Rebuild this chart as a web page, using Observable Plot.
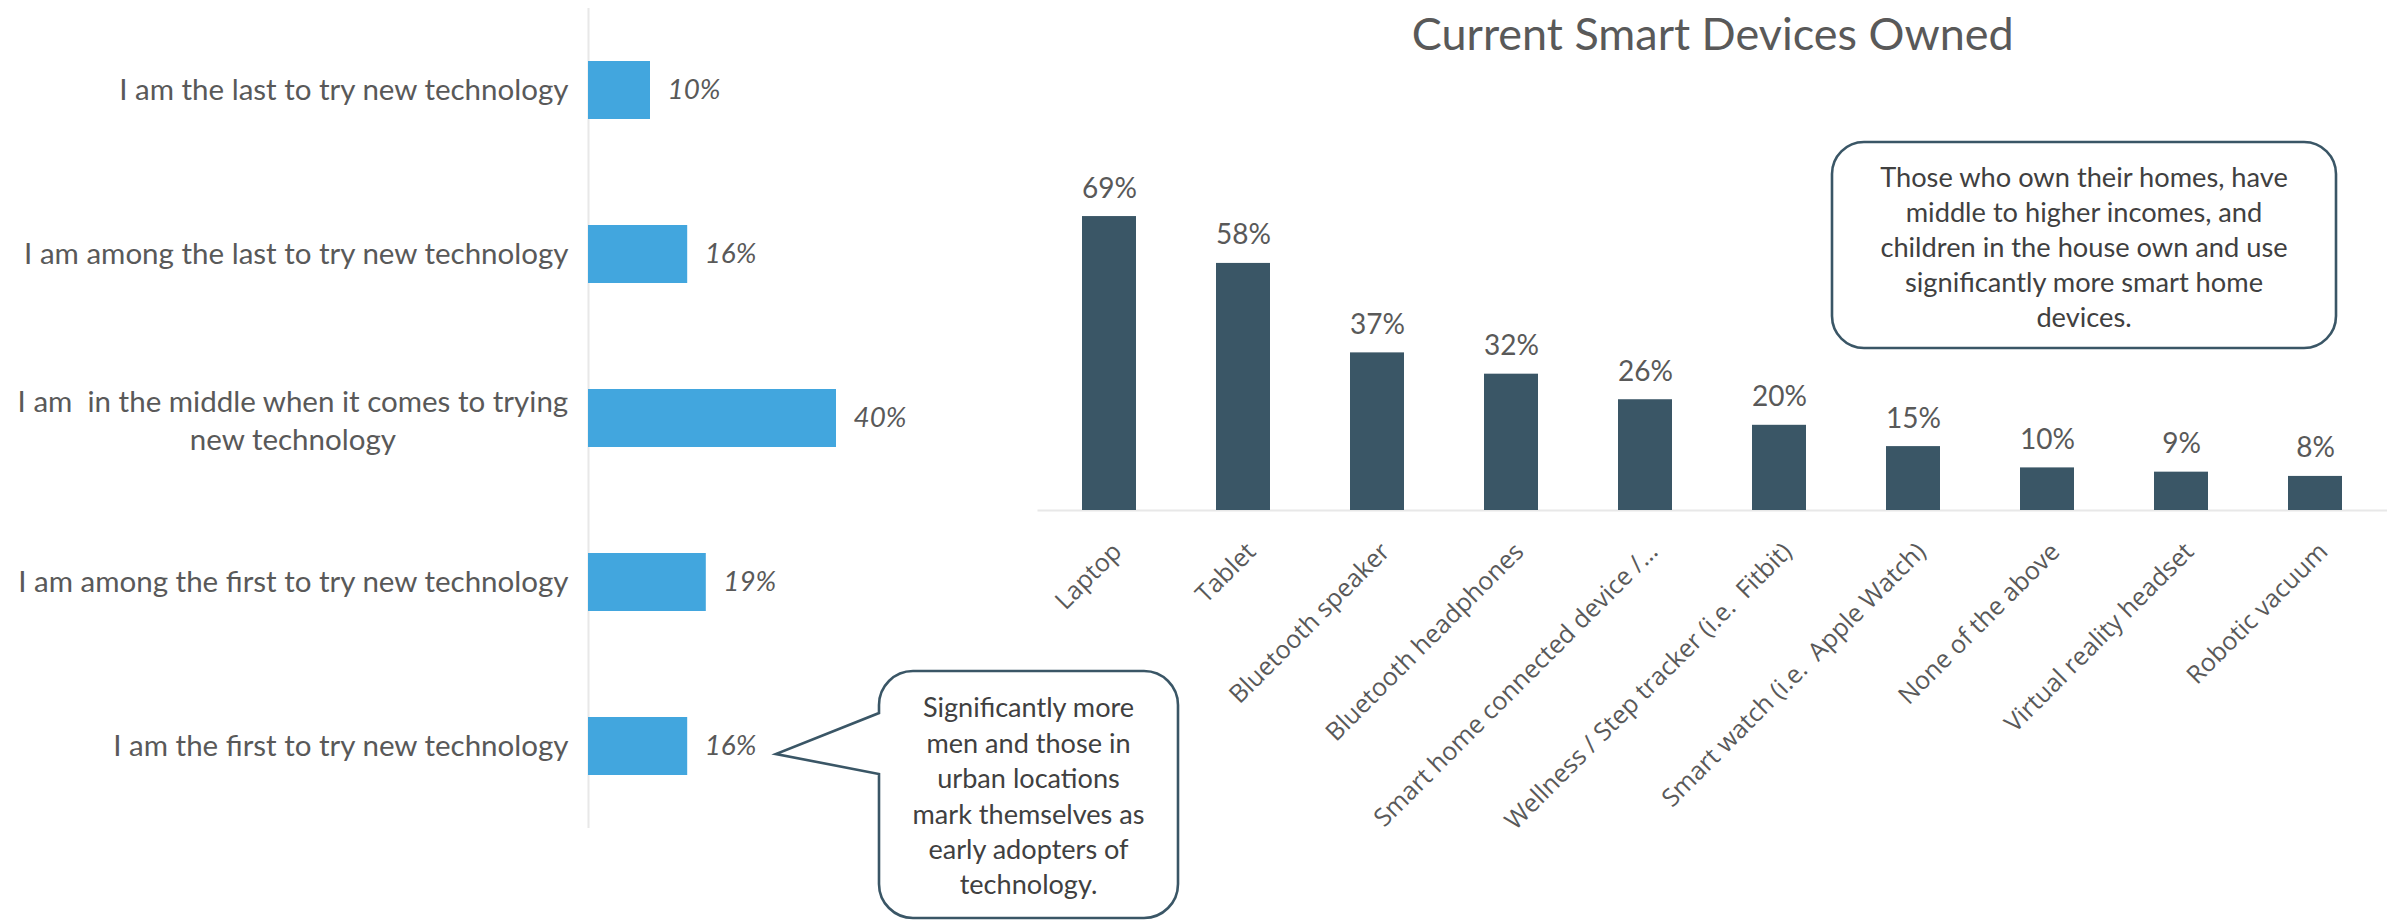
<!DOCTYPE html>
<html><head><meta charset="utf-8">
<script src="https://cdn.jsdelivr.net/npm/d3@7"></script>
<script src="https://cdn.jsdelivr.net/npm/@observablehq/plot@0.6"></script>
<style>
html,body{margin:0;padding:0;background:#fff;}
#root{position:relative;width:2387px;height:921px;overflow:hidden;}
#root > svg{position:absolute;top:0;overflow:visible;}
#root text{white-space:pre;}
</style></head><body><div id="root"></div>
<script>
// ---------- data ----------
const adoptionLabels = [
  "I am the last to try new technology",
  "I am among the last to try new technology",
  "I am  in the middle when it comes to trying\nnew technology",
  "I am among the first to try new technology",
  "I am the first to try new technology"
];
const adoptionValues = [10, 16, 40, 19, 16];

const chartTitle = "Current Smart Devices Owned";
const deviceLabels = [
  "Laptop", "Tablet", "Bluetooth speaker", "Bluetooth headphones",
  "Smart home connected device /…", "Wellness / Step tracker (i.e.  Fitbit)",
  "Smart watch (i.e.  Apple Watch)", "None of the above",
  "Virtual reality headset", "Robotic vacuum"
];
const deviceValues = [69, 58, 37, 32, 26, 20, 15, 10, 9, 8];

const leftNote = ["Significantly more", "men and those in", "urban locations", "mark themselves as", "early adopters of", "technology."];
const rightNote = ["Those who own their homes, have", "middle to higher incomes, and", "children in the house own and use", "significantly more smart home", "devices."];

const adoption = adoptionLabels.map((label, i) => ({label, value: adoptionValues[i]}));
const devices = deviceLabels.map((label, i) => ({label, value: deviceValues[i]}));

// ---------- fonts ----------
const SANS = "Lato";
const TICKFONT = "Open Sans";
const ctx = document.createElement("canvas").getContext("2d");
function measure(text, size, family, style = "normal") {
  ctx.font = `${style} ${size}px '${family}'`;
  return ctx.measureText(text).width;
}
function fit(text, family, target, style = "normal") {
  return 100 * target / measure(text, 100, family, style);
}
const FS = {
  label: fit(adoptionLabels[0], SANS, 451),
  leftValue: fit("10%", SANS, 53, "italic"),
  value: fit("69%", SANS, 55),
  title: fit(chartTitle, SANS, 602),
  noteR: fit(rightNote[0], SANS, 409),
  noteL: fit(leftNote[0], SANS, 212),
  tick: fit("Smart home connected device /…", TICKFONT, 389)
};
const TEXT = "#595959";
const NOTE = "#404040";
const BLUE = "#42A6DE";
const SLATE = "#3A5666";
const GRID = "#E8E8E8";

const root = document.getElementById("root");

// ---------- left chart ----------
const single = adoption.filter(d => !d.label.includes("\n"));
const multi = adoption.filter(d => d.label.includes("\n"));
const firstLineW = d => measure(d.label.split("\n")[0], FS.label, SANS);

const left = Plot.plot({
  width: 1200, height: 921,
  marginLeft: 588, marginRight: 302, marginTop: 8, marginBottom: 93,
  x: {domain: [0, 50], axis: null},
  y: {domain: adoptionLabels, paddingInner: 0.646, paddingOuter: 0.323, axis: null},
  style: {fontFamily: SANS, background: "transparent", color: TEXT},
  marks: [
    Plot.ruleX([0], {stroke: GRID, strokeWidth: 2}),
    Plot.barX(adoption, {x: "value", y: "label", fill: BLUE}),
    Plot.text(adoption, {x: "value", y: "label", text: d => d.value + "%", textAnchor: "start", dx: 17,
      fontStyle: "italic", fontSize: FS.leftValue, fill: TEXT}),
    Plot.text(single, {y: "label", text: "label", frameAnchor: "left", textAnchor: "end", dx: -20,
      fontSize: FS.label, fill: TEXT}),
    Plot.text(multi, {y: "label", text: "label", frameAnchor: "left", textAnchor: "middle",
      dx: -20 - firstLineW(multi[0]) / 2, lineHeight: 38 / FS.label, fontSize: FS.label, fill: TEXT})
  ]
});
left.style.left = "0px";
root.appendChild(left);

function calloutPath(x0, y0, x1, y1, r, ptr) {
  let p = `M${x0 + r},${y0}H${x1 - r}A${r},${r} 0 0 1 ${x1},${y0 + r}V${y1 - r}A${r},${r} 0 0 1 ${x1 - r},${y1}H${x0 + r}A${r},${r} 0 0 1 ${x0},${y1 - r}`;
  if (ptr) p += `V${ptr.b2}L${ptr.x},${ptr.y}L${x0},${ptr.b1}`;
  p += `V${y0 + r}A${r},${r} 0 0 1 ${x0 + r},${y0}Z`;
  return p;
}
function drawCallout(svg, box, lines, fontSize, lineGap, ptr) {
  const g = d3.select(svg).append("g");
  g.append("path").attr("d", calloutPath(box.x0, box.y0, box.x1, box.y1, box.r, ptr))
    .attr("fill", "#fff").attr("stroke", SLATE).attr("stroke-width", 2.6);
  const cx = (box.x0 + box.x1) / 2, cy = (box.y0 + box.y1) / 2 + 2;
  const start = cy - (lines.length - 1) * lineGap / 2;
  g.selectAll("text").data(lines).join("text")
    .attr("x", cx).attr("y", (d, i) => start + i * lineGap)
    .attr("dy", "0.35em").attr("text-anchor", "middle")
    .attr("font-family", SANS).attr("font-size", fontSize).attr("fill", NOTE)
    .text(d => d);
}
{
  const xs = left.scale("x"), ys = left.scale("y");
  const last = adoption[adoption.length - 1];
  const cy = ys.apply(last.label) + ys.bandwidth / 2;
  const tipX = xs.apply(last.value) + 17 + measure(last.value + "%", FS.leftValue, SANS, "italic") + 20;
  drawCallout(left, {x0: 879, y0: 671, x1: 1178, y1: 918, r: 34}, leftNote, FS.noteL, 35.4,
    {x: tipX, y: cy + 8, b1: cy - 33, b2: cy + 28});
}

// ---------- right chart ----------
const right = Plot.plot({
  width: 1387, height: 921,
  marginLeft: 37.5, marginRight: 0, marginTop: 169.2, marginBottom: 411,
  x: {domain: deviceLabels, paddingInner: 0.6, paddingOuter: 0.3},
  y: {domain: [0, 80], axis: null},
  style: {fontFamily: SANS, background: "transparent", color: TEXT},
  marks: [
    Plot.ruleY([0], {stroke: GRID, strokeWidth: 2}),
    Plot.barY(devices, {x: "label", y: "value", fill: SLATE}),
    Plot.text(devices, {x: "label", y: "value", text: d => d.value + "%", lineAnchor: "bottom", dy: -19,
      fontSize: FS.value, fill: TEXT}),
    Plot.axisX({tickRotate: -45, tickSize: 0, tickPadding: 37, dx: 8, fontSize: FS.tick,
      fontFamily: TICKFONT, fill: TEXT, label: null}),
    Plot.text([chartTitle], {text: d => d, frameAnchor: "top", dy: 35 - 169.2, lineAnchor: "middle",
      fontSize: FS.title, fill: TEXT})
  ]
});
right.style.left = "1000px";
root.appendChild(right);
drawCallout(right, {x0: 832, y0: 142, x1: 1336, y1: 348, r: 32}, rightNote, FS.noteR, 35);
</script>
</body></html>
